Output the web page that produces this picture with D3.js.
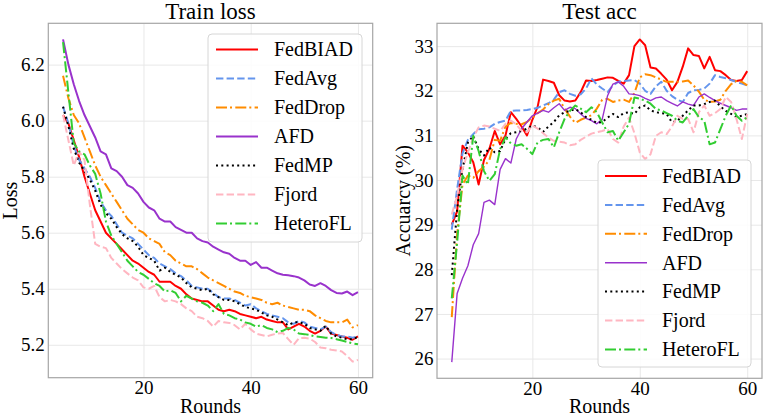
<!DOCTYPE html>
<html>
<head>
<meta charset="utf-8">
<script src="https://cdn.jsdelivr.net/npm/d3@7"></script>
<style>
  body { margin: 0; background: #fff; }
</style>
</head>
<body>
<div id="grafico"></div>
<script>
// DADOS ---------------------------------------------------------------------
const rounds = [5,6,7,8,9,10,11,12,13,14,15,16,17,18,19,20,21,22,23,24,25,26,27,28,29,30,
  31,32,33,34,35,36,37,38,39,40,41,42,43,44,45,46,47,48,49,50,51,52,53,54,55,56,57,58,59,60];

const metodos = ["FedBIAD", "FedAvg", "FedDrop", "AFD", "FedMP", "Fjord", "HeteroFL"];

// Train loss
const lossFedBIAD = [6.02,5.99,5.93,5.87,5.80,5.74,5.68,5.64,5.60,5.58,5.56,5.54,5.52,5.50,5.49,5.475,5.46,5.45,5.425,5.425,
  5.425,5.41,5.40,5.38,5.365,5.36,5.355,5.355,5.34,5.325,5.32,5.325,5.32,5.31,5.305,5.30,5.295,5.30,5.29,5.285,
  5.28,5.28,5.255,5.265,5.275,5.265,5.25,5.24,5.25,5.265,5.24,5.235,5.23,5.225,5.218,5.23];
const lossFedAvg = [6.05,5.99,5.91,5.86,5.83,5.80,5.76,5.71,5.68,5.66,5.63,5.60,5.59,5.58,5.56,5.54,5.52,5.51,5.49,5.48,
  5.47,5.455,5.445,5.43,5.41,5.405,5.40,5.40,5.385,5.37,5.365,5.365,5.36,5.35,5.34,5.345,5.33,5.32,5.31,5.305,
  5.30,5.295,5.28,5.275,5.285,5.28,5.265,5.26,5.255,5.265,5.245,5.235,5.23,5.23,5.225,5.23];
const lossFedDrop = [6.16,6.08,6.02,5.99,5.94,5.89,5.84,5.80,5.77,5.74,5.71,5.68,5.65,5.63,5.61,5.60,5.58,5.57,5.56,5.53,
  5.52,5.50,5.49,5.48,5.48,5.47,5.455,5.44,5.43,5.42,5.41,5.40,5.39,5.385,5.375,5.37,5.365,5.36,5.35,5.345,
  5.35,5.34,5.335,5.33,5.325,5.325,5.32,5.305,5.295,5.285,5.28,5.28,5.28,5.29,5.262,5.27];
const lossAFD = [6.29,6.20,6.13,6.07,6.02,5.98,5.94,5.89,5.88,5.83,5.82,5.80,5.77,5.76,5.74,5.71,5.69,5.68,5.65,5.64,
  5.64,5.62,5.61,5.60,5.60,5.58,5.57,5.565,5.55,5.54,5.53,5.525,5.51,5.50,5.50,5.485,5.495,5.475,5.475,5.465,
  5.455,5.45,5.448,5.445,5.44,5.43,5.415,5.41,5.42,5.41,5.395,5.385,5.383,5.39,5.377,5.388];
const lossFedMP = [6.05,5.98,5.90,5.85,5.82,5.79,5.75,5.70,5.67,5.65,5.62,5.595,5.58,5.57,5.55,5.52,5.51,5.50,5.465,5.475,
  5.46,5.45,5.44,5.42,5.405,5.40,5.395,5.40,5.38,5.37,5.36,5.36,5.355,5.345,5.335,5.33,5.325,5.315,5.305,5.30,
  5.29,5.28,5.27,5.28,5.28,5.275,5.26,5.255,5.25,5.268,5.24,5.23,5.225,5.22,5.22,5.228];
const lossFjord = [6.02,5.93,5.84,5.89,5.86,5.70,5.56,5.55,5.545,5.51,5.49,5.47,5.455,5.44,5.43,5.405,5.40,5.41,5.37,5.355,
  5.36,5.355,5.345,5.33,5.32,5.30,5.295,5.285,5.265,5.285,5.28,5.278,5.27,5.255,5.275,5.255,5.24,5.235,5.23,5.236,
  5.24,5.242,5.22,5.20,5.224,5.225,5.222,5.21,5.19,5.188,5.182,5.18,5.176,5.16,5.14,5.146];
const lossHeteroFL = [6.28,6.10,5.92,5.89,5.88,5.84,5.81,5.74,5.64,5.59,5.56,5.53,5.50,5.48,5.46,5.45,5.435,5.42,5.41,5.39,
  5.395,5.385,5.355,5.375,5.365,5.355,5.35,5.34,5.32,5.345,5.31,5.305,5.295,5.29,5.28,5.275,5.265,5.27,5.26,5.255,
  5.245,5.25,5.26,5.255,5.24,5.238,5.235,5.23,5.228,5.225,5.224,5.22,5.215,5.21,5.205,5.202];

// Test acc (%)
const accFedBIAD = [29.0,29.3,30.77,30.62,30.4,29.9,30.45,30.7,31.1,30.8,31.0,31.52,31.37,31.2,31.0,31.35,31.65,32.25,32.22,32.18,
  31.9,31.78,31.76,31.78,31.97,32.23,32.22,32.24,32.27,32.3,32.29,32.22,32.16,32.35,33.0,33.15,33.02,32.52,32.5,32.38,
  32.25,32.01,32.2,32.54,32.95,32.8,32.78,32.5,32.76,32.46,32.44,32.35,32.24,32.22,32.24,32.44];
const accFedAvg = [28.89,29.8,30.6,30.9,31.03,31.14,31.15,31.18,31.26,31.3,31.33,31.55,31.56,31.56,31.57,31.59,31.62,31.67,31.72,31.8,
  31.97,32.01,31.93,31.89,31.92,32.05,32.28,32.14,32.05,31.97,32.12,32.2,32.22,32.23,32.24,32.16,32.0,31.93,32.1,32.2,
  32.0,31.88,31.8,31.75,31.95,32.01,32.02,32.05,32.16,32.35,32.31,32.28,32.24,32.2,32.16,32.12];
const accFedDrop = [26.93,28.8,29.9,30.1,30.05,30.2,30.3,30.45,30.9,30.88,31.2,31.28,31.26,31.25,31.3,31.4,31.5,31.58,31.7,31.78,
  31.82,31.6,31.42,31.28,31.35,31.4,31.45,31.6,31.8,31.82,31.75,31.78,31.8,31.75,31.95,32.3,32.37,32.35,32.3,32.25,
  32.2,32.2,32.2,32.21,32.23,32.12,31.98,31.8,31.75,31.76,31.8,32.0,32.15,32.22,32.2,32.12];
const accAFD = [25.92,27.46,27.8,28.08,28.55,28.8,29.5,29.55,29.45,30.24,30.48,30.38,30.92,31.15,31.3,31.44,31.5,31.56,31.52,31.62,
  31.71,31.56,31.63,31.6,31.48,31.38,31.33,31.26,31.36,31.89,32.15,32.2,32.1,31.93,31.92,31.89,31.83,31.78,31.84,31.86,
  31.78,31.72,31.66,31.75,31.7,31.67,31.86,31.93,31.85,31.78,31.72,31.67,31.62,31.56,31.59,31.59];
const accFedMP = [27.87,29.35,30.24,30.84,30.99,30.69,30.55,30.73,30.62,30.65,30.92,31.05,31.07,31.1,31.15,31.22,31.18,31.08,31.2,31.3,
  31.45,31.52,31.55,31.59,31.52,31.41,31.35,31.28,31.3,31.4,31.48,31.41,31.5,31.52,31.48,31.63,31.67,31.56,31.52,31.5,
  31.48,31.29,31.33,31.44,31.56,31.67,31.67,31.7,31.75,31.78,31.65,31.55,31.48,31.41,31.44,31.48];
const accFjord = [29.23,29.65,30.24,30.62,30.95,31.18,31.22,31.2,31.15,31.1,31.26,31.33,31.25,31.1,31.07,31.22,31.15,31.05,30.95,30.88,
  30.86,30.84,30.78,30.8,30.9,30.97,31.04,31.07,31.1,31.14,30.92,30.84,31.2,31.4,31.05,30.62,30.47,30.58,30.99,31.07,
  31.03,31.2,31.44,31.37,31.37,31.07,31.52,31.67,31.44,31.5,31.59,31.86,31.75,31.37,30.92,31.48];
const accHeteroFL = [27.35,28.6,30.1,29.9,30.99,30.65,30.2,29.98,30.13,30.69,30.96,30.82,30.77,30.8,30.7,30.58,30.85,30.9,30.92,30.73,
  31.07,31.37,31.55,31.67,31.6,31.52,31.63,31.52,31.29,31.07,31.1,30.88,31.07,31.26,31.85,31.82,31.78,31.71,31.59,31.56,
  31.5,31.44,31.33,31.29,31.44,31.59,31.41,31.33,30.8,30.84,31.14,31.44,31.67,31.44,31.33,31.41];

const xTicks = [20, 40, 60];
const lossTicks = [5.2, 5.4, 5.6, 5.8, 6.0, 6.2];
const accTicks = [26, 27, 28, 29, 30, 31, 32, 33];

// ESTILOS -------------------------------------------------------------------
const fonte = '"Liberation Serif", "Times New Roman", "DejaVu Serif", serif';
const estilos = {
  FedBIAD:  { cor: "#ff0000", traco: null },
  FedAvg:   { cor: "#6495ed", traco: "7.4,3.2" },
  FedDrop:  { cor: "#ff8c00", traco: "11,3,2,3.3" },
  AFD:      { cor: "#9932cc", traco: null },
  FedMP:    { cor: "#000000", traco: "2,3.3" },
  Fjord:    { cor: "#ffb6c1", traco: "7.4,3.2" },
  HeteroFL: { cor: "#32cd32", traco: "11,3,2,3.3" }
};

const svg = d3.select("#grafico").append("svg")
  .attr("width", 764)
  .attr("height", 420)
  .attr("viewBox", [0, 0, 764, 420]);

function painel({ series, caixa, yTicks, yFormato, titulo, rotuloY, rotuloYx, legenda, larguraAFD }) {
  const todos = series.flat();
  const [ymin, ymax] = d3.extent(todos);
  const py = (ymax - ymin) * 0.05;
  const px = (60 - 5) * 0.05;

  const x = d3.scaleLinear([5 - px, 60 + px], [caixa.esq, caixa.dir]);
  const y = d3.scaleLinear([ymin - py, ymax + py], [caixa.inf, caixa.sup]);

  const g = svg.append("g");

  // EIXO Y (com grade)
  g.append("g")
    .attr("transform", `translate(${caixa.esq},0)`)
    .call(d3.axisLeft(y).tickValues(yTicks).tickFormat(yFormato)
      .tickSizeInner(-(caixa.dir - caixa.esq)).tickSizeOuter(0).tickPadding(3.5))
    .call(a => a.select(".domain").remove())
    .call(a => a.selectAll(".tick line").attr("stroke", "#e8e8e8").attr("stroke-width", 1))
    .call(a => a.selectAll(".tick text").attr("fill", "#000").style("font-family", fonte).style("font-size", "19px"));

  // EIXO X (com grade)
  g.append("g")
    .attr("transform", `translate(0,${caixa.inf})`)
    .call(d3.axisBottom(x).tickValues(xTicks).tickFormat(d3.format("d"))
      .tickSizeInner(-(caixa.inf - caixa.sup)).tickSizeOuter(0).tickPadding(3))
    .call(a => a.select(".domain").remove())
    .call(a => a.selectAll(".tick line").attr("stroke", "#e8e8e8").attr("stroke-width", 1))
    .call(a => a.selectAll(".tick text").attr("fill", "#000").style("font-family", fonte).style("font-size", "19px"));

  // LINHAS
  const linha = d3.line().x((d, i) => x(rounds[i])).y(d => y(d));
  metodos.forEach((m, k) => {
    g.append("path")
      .datum(series[k])
      .attr("fill", "none")
      .attr("stroke", estilos[m].cor)
      .attr("stroke-width", m === "AFD" ? larguraAFD : 2)
      .attr("stroke-dasharray", estilos[m].traco)
      .attr("stroke-linejoin", "round")
      .attr("d", linha);
  });

  // MOLDURA
  g.append("rect")
    .attr("x", caixa.esq).attr("y", caixa.sup)
    .attr("width", caixa.dir - caixa.esq).attr("height", caixa.inf - caixa.sup)
    .attr("fill", "none").attr("stroke", "#a6a6a6").attr("stroke-width", 1.2);

  // TÍTULO e RÓTULOS
  const cx = (caixa.esq + caixa.dir) / 2;
  const texto = (sel, tam) => sel.style("font-family", fonte).style("font-size", tam + "px").attr("fill", "#000");
  g.append("text").attr("x", cx).attr("y", 18.5)
    .attr("text-anchor", "middle").call(texto, 23).text(titulo);
  g.append("text").attr("x", cx).attr("y", 413)
    .attr("text-anchor", "middle").call(texto, 20).text("Rounds");
  g.append("text")
    .attr("transform", `translate(${rotuloYx},${(caixa.sup + caixa.inf) / 2}) rotate(-90)`)
    .attr("text-anchor", "middle").call(texto, 20).text(rotuloY);

  // LEGENDA
  const leg = g.append("g").attr("transform", `translate(${legenda.x},${legenda.y})`);
  leg.append("rect")
    .attr("width", legenda.w).attr("height", legenda.h).attr("rx", 4)
    .attr("fill", "#fff").attr("fill-opacity", 0.85)
    .attr("stroke", "#d6d6d6").attr("stroke-width", 1);
  metodos.forEach((m, k) => {
    const yy = legenda.primeira + k * legenda.passo;
    leg.append("line")
      .attr("x1", legenda.linha0).attr("x2", legenda.linha0 + 42)
      .attr("y1", yy).attr("y2", yy)
      .attr("stroke", estilos[m].cor)
      .attr("stroke-width", m === "AFD" ? larguraAFD : 2)
      .attr("stroke-dasharray", estilos[m].traco);
    leg.append("text")
      .attr("x", legenda.texto0).attr("y", yy + 6.8)
      .call(texto, 20).text(m);
  });
}

painel({
  series: [lossFedBIAD, lossFedAvg, lossFedDrop, lossAFD, lossFedMP, lossFjord, lossHeteroFL],
  caixa: { esq: 48.3, dir: 372.7, sup: 23.3, inf: 377.7 },
  yTicks: lossTicks, yFormato: d3.format(".1f"),
  titulo: "Train loss", rotuloY: "Loss", rotuloYx: 16.5,
  legenda: { x: 208, y: 34, w: 154, h: 208, primeira: 15.5, passo: 29, linha0: 8, texto0: 66 },
  larguraAFD: 2
});

painel({
  series: [accFedBIAD, accFedAvg, accFedDrop, accAFD, accFedMP, accFjord, accHeteroFL],
  caixa: { esq: 437, dir: 762, sup: 23.3, inf: 378.3 },
  yTicks: accTicks, yFormato: d3.format("d"),
  titulo: "Test acc", rotuloY: "Accuarcy (%)", rotuloYx: 410,
  legenda: { x: 598, y: 160, w: 153, h: 207, primeira: 16, passo: 28.9, linha0: 7, texto0: 64 },
  larguraAFD: 1.4
});
</script>
</body>
</html>
